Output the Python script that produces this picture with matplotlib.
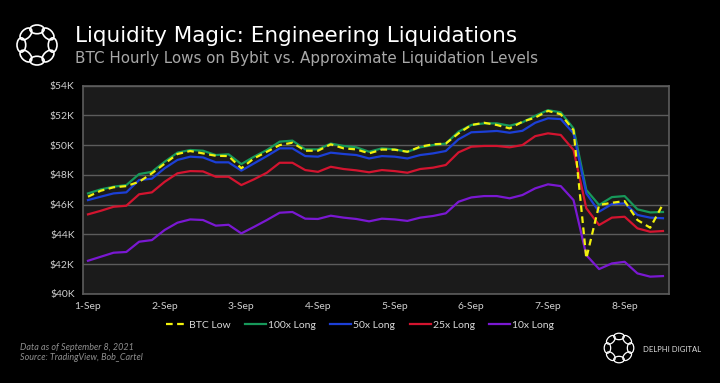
import numpy as np
import matplotlib
matplotlib.use("Agg")
import matplotlib.pyplot as plt
from matplotlib.patches import Ellipse

# 4-hourly points, 1-Sep 00:00 .. 8-Sep 12:00
days = [i / 6 for i in range(46)]
day_labels = ["1-Sep", "2-Sep", "3-Sep", "4-Sep", "5-Sep", "6-Sep", "7-Sep", "8-Sep"]

btc_low = [46530, 46930, 47160, 47240, 47530, 48100, 48750, 49400, 49600, 49440,
           49280, 49260, 48440, 49110, 49550, 50000, 50160, 49620, 49620, 50050,
           49780, 49710, 49440, 49700, 49690, 49550, 49890, 50050, 50100, 50790,
           51350, 51500, 51350, 51120, 51570, 51850, 52300, 52070, 51000, 42380,
           45970, 46120, 46230, 44960, 44440, 46030]
long_100x = [46750, 47020, 47200, 47310, 48050, 48200, 48880, 49490, 49670, 49620,
             49330, 49380, 48720, 49220, 49670, 50230, 50300, 49710, 49710, 50100,
             49940, 49850, 49550, 49780, 49710, 49550, 49850, 50000, 50100, 50900,
             51350, 51460, 51460, 51300, 51530, 51970, 52350, 52200, 51120, 46980,
             45970, 46500, 46570, 45680, 45470, 45500]
long_50x = [46300, 46530, 46750, 46820, 47650, 47740, 48440, 49000, 49220, 49170,
            48840, 48840, 48280, 48770, 49260, 49780, 49780, 49260, 49220, 49490,
            49400, 49330, 49100, 49260, 49220, 49100, 49330, 49440, 49600, 50390,
            50860, 50900, 50950, 50830, 50960, 51500, 51800, 51750, 50790, 46750,
            45520, 46030, 46080, 45300, 45120, 45080]
long_25x = [45340, 45580, 45850, 45920, 46690, 46820, 47530, 48100, 48250, 48230,
            47870, 47870, 47310, 47700, 48140, 48810, 48810, 48320, 48200, 48540,
            48390, 48300, 48170, 48320, 48250, 48140, 48390, 48480, 48660, 49510,
            49890, 49940, 49940, 49850, 50000, 50600, 50790, 50680, 49670, 45750,
            44620, 45120, 45180, 44400, 44170, 44220]
long_10x = [42220, 42490, 42760, 42810, 43500, 43610, 44290, 44780, 45000, 44960,
            44580, 44640, 44060, 44500, 44960, 45450, 45500, 45050, 45030, 45250,
            45120, 45030, 44870, 45050, 45000, 44900, 45120, 45230, 45410, 46190,
            46480, 46570, 46570, 46420, 46640, 47090, 47360, 47240, 46300, 42600,
            41660, 42040, 42150, 41370, 41150, 41190]

plt.rcParams["font.family"] = ["Lato", "DejaVu Sans"]

fig = plt.figure(figsize=(7.2, 3.83), dpi=100, facecolor="black")
ax = fig.add_axes([0.1153, 0.233, 0.8137, 0.5435], facecolor="#1b1b1b")

ax.plot(days, long_100x, color="#17985a", lw=1.6, label="100x Long", zorder=3)
ax.plot(days, long_50x, color="#1c3fd6", lw=1.6, label="50x Long", zorder=3)
ax.plot(days, long_25x, color="#d3142f", lw=1.6, label="25x Long", zorder=3)
ax.plot(days, long_10x, color="#7a18d2", lw=1.6, label="10x Long", zorder=3)
ax.plot(days, btc_low, color="#f2f20c", lw=1.6, ls=(0, (3, 2)), label="BTC Low", zorder=4)

ax.set_xlim(-0.065, 7.577)
ax.set_ylim(40000, 54000)
ax.set_xticks(range(8))
ax.set_xticklabels(day_labels)
yt = np.arange(40000, 54001, 2000)
ax.set_yticks(yt)
ax.set_yticklabels([f"${v // 1000}K" for v in yt])
ax.tick_params(length=0, colors="#cfcfcf", labelsize=7.5, pad=6)
ax.grid(axis="y", color="#5c5c5c", lw=1)
ax.set_axisbelow(True)
for s in ax.spines.values():
    s.set_color("#5c5c5c")
    s.set_linewidth(1.2)

# legend in custom order
handles, labels = ax.get_legend_handles_labels()
order = [4, 0, 1, 2, 3]
fig.legend([handles[i] for i in order], [labels[i] for i in order],
           loc="center", bbox_to_anchor=(0.5, 1 - 325 / 383), ncol=5,
           frameon=False, fontsize=7.5, labelcolor="#d8d8d8",
           handlelength=2.0, handletextpad=0.2, columnspacing=1.4)

# titles
fig.text(75 / 720, 1 - 36 / 383, "Liquidity Magic: Engineering Liquidations",
         color="white", fontsize=15.5, va="center", ha="left", family="DejaVu Sans")
fig.text(75 / 720, 1 - 58 / 383, "BTC Hourly Lows on Bybit vs. Approximate Liquidation Levels",
         color="#a8a8a8", fontsize=10.9, va="center", ha="left", family="DejaVu Sans")

# footer
fig.text(20 / 720, 1 - 347 / 383, "Data as of September 8, 2021", color="#8f8f8f",
         fontsize=6.5, style="italic", va="center")
fig.text(20 / 720, 1 - 358 / 383, "Source: TradingView, Bob_Cartel", color="#8f8f8f",
         fontsize=6.5, style="italic", va="center")
fig.text(643 / 720, 1 - 349 / 383, "DELPHI DIGITAL", color="#e0e0e0",
         fontsize=5.5, va="center", ha="left")


def draw_logo(cx, cy, size, lw):
    lax = fig.add_axes([(cx - size / 2) / 720, 1 - (cy + size / 2) / 383,
                        size / 720, size / 383])
    lax.set_xlim(-1, 1)
    lax.set_ylim(-1, 1)
    lax.axis("off")
    for k in range(8):
        a = 2 * np.pi * k / 8
        lax.add_patch(Ellipse((0.68 * np.cos(a), 0.68 * np.sin(a)), 0.62, 0.38,
                              angle=np.degrees(a) + 90, fill=False,
                              edgecolor="white", lw=lw))


draw_logo(37, 45, 46, 1.2)
draw_logo(619, 348, 34, 0.9)

fig.savefig("out.png", dpi=100, facecolor="black")
